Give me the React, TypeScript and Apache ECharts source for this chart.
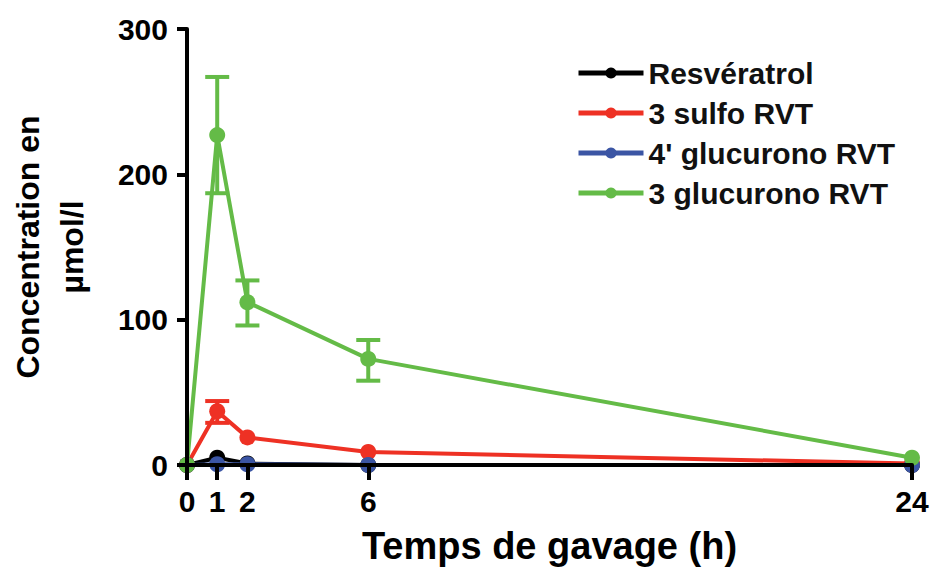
import React, { useEffect, useRef } from "react";
import * as echarts from "echarts";

const hours = [0, 1, 2, 6, 24];
const xTicks = [0, 1, 2, 6, 24];
const yTicks = [0, 100, 200, 300];

const seriesNames = ["Resvératrol", "3 sulfo RVT", "4' glucurono RVT", "3 glucurono RVT"];
const colors = ["#000000", "#ee3124", "#3b55a4", "#64bb47"];

const resveratrol = [0, 5, 1, 0, 0];
const sulfo3 = [0, 37, 19, 9, 1];
const glucurono4 = [0, 0.5, 0.5, 0, 0];
const glucurono3 = [0, 227, 112, 73, 5];

// error bars: [hour, low, high]
const sulfo3Err = [[1, 29, 44]];
const glucurono3Err = [
  [1, 187, 267],
  [2, 96, 127],
  [6, 58, 86],
];

const FONT = "'Liberation Sans', Arial, sans-serif";

function errorSeries(data: number[][], color: string) {
  return {
    type: "custom",
    name: "err-" + color,
    data,
    z: 2,
    silent: true,
    clip: false,
    renderItem: (_params: any, api: any) => {
      const x = api.value(0);
      const lo = api.coord([x, api.value(1)]);
      const hi = api.coord([x, api.value(2)]);
      const half = 12;
      const style = { stroke: color, lineWidth: 4 };
      return {
        type: "group",
        children: [
          { type: "line", shape: { x1: lo[0], y1: lo[1], x2: hi[0], y2: hi[1] }, style },
          { type: "line", shape: { x1: lo[0] - half, y1: lo[1], x2: lo[0] + half, y2: lo[1] }, style },
          { type: "line", shape: { x1: hi[0] - half, y1: hi[1], x2: hi[0] + half, y2: hi[1] }, style },
        ],
      };
    },
  };
}

export default function App() {
  const ref = useRef<HTMLDivElement>(null);
  useEffect(() => {
    if (!ref.current) return;
    const chart = echarts.init(ref.current, null, { renderer: "svg" });
    const values = [resveratrol, sulfo3, glucurono4, glucurono3];
    const lineSeries = seriesNames.map((name, i) => ({
      type: "line",
      name,
      data: hours.map((h, j) => [h, values[i][j]]),
      symbol: "circle",
      symbolSize: 16,
      clip: false,
      z: 3,
      lineStyle: { color: colors[i], width: 4 },
      itemStyle: { color: colors[i] },
    }));
    chart.setOption({
      animation: false,
      backgroundColor: "#ffffff",
      grid: { left: 187, right: 20, top: 29, bottom: 104, containLabel: false, outerBoundsMode: "none" },
      legend: {
        data: seriesNames,
        orient: "vertical",
        left: 571,
        top: 53,
        itemWidth: 65,
        itemHeight: 14,
        itemGap: 10,
        lineStyle: { width: 5 },
        textStyle: { fontFamily: FONT, fontWeight: "bold", fontSize: 30, color: "#111" },
      },
      xAxis: {
        type: "value",
        min: 0,
        max: 24,
        z: 10,
        splitLine: { show: false },
        axisLine: { show: true, lineStyle: { color: "#000", width: 4 } },
        axisTick: { show: true, customValues: xTicks, length: 15, lineStyle: { color: "#000", width: 4 } },
        axisLabel: {
          customValues: xTicks,
          margin: 21,
          fontFamily: FONT,
          fontWeight: "bold",
          fontSize: 30,
          color: "#000",
        },
        name: "Temps de gavage (h)",
        nameLocation: "middle",
        nameGap: 62,
        nameTextStyle: { fontFamily: FONT, fontWeight: "bold", fontSize: 38, color: "#000" },
      },
      yAxis: {
        type: "value",
        min: 0,
        max: 300,
        interval: 100,
        z: 10,
        splitLine: { show: false },
        axisLine: { show: true, lineStyle: { color: "#000", width: 4 } },
        axisTick: { show: true, length: 10, lineStyle: { color: "#000", width: 4 } },
        axisLabel: {
          margin: 19,
          fontFamily: FONT,
          fontWeight: "bold",
          fontSize: 30,
          color: "#000",
          formatter: (v: number) => (yTicks.includes(v) ? String(v) : ""),
        },
        name: "Concentration en\nµmol/l",
        nameLocation: "middle",
        nameRotate: 90,
        nameGap: 93,
        nameTextStyle: { fontFamily: FONT, fontWeight: "bold", fontSize: 32, color: "#000", lineHeight: 44 },
      },
      series: [
        ...lineSeries,
        errorSeries(sulfo3Err, colors[1]),
        errorSeries(glucurono3Err, colors[3]),
      ],
    });
    return () => chart.dispose();
  }, []);
  return <div ref={ref} style={{ position: "fixed", left: 0, top: 0, width: 932, height: 569 }} />;
}
